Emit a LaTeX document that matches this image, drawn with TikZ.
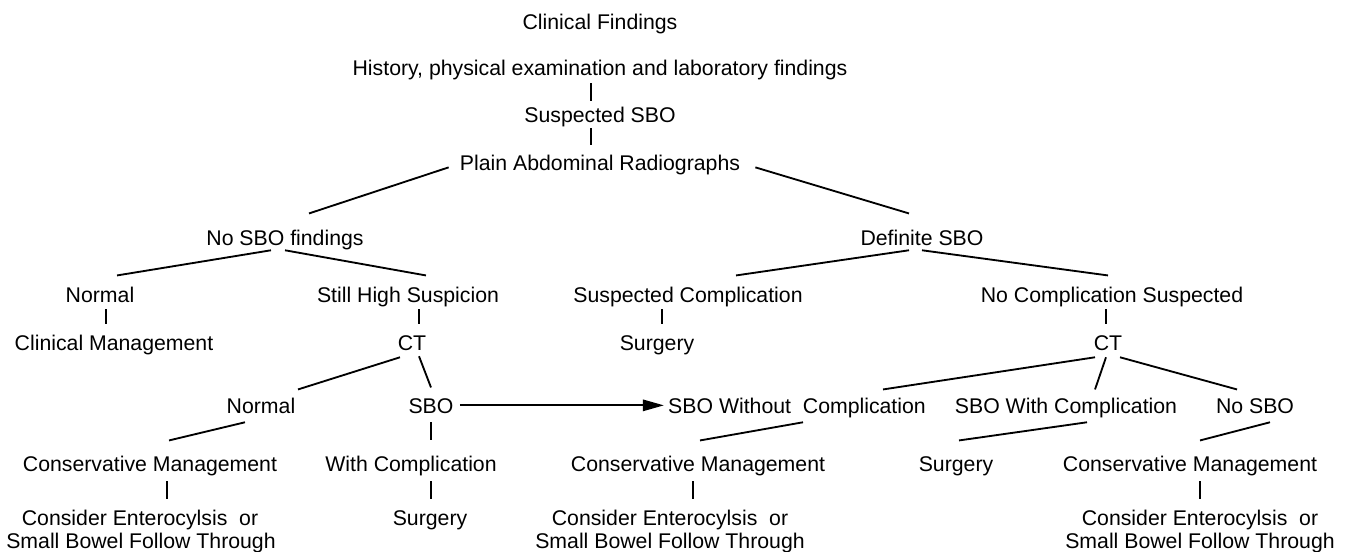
\documentclass[tikz,border=0pt]{standalone}
\usepackage{fontspec}
\setmainfont{Liberation Sans}
\usetikzlibrary{arrows.meta}

\begin{document}
\begin{tikzpicture}[x=0.02cm,y=-0.02cm]
			\useasboundingbox (0,0) rectangle (1352,551);
			\begin{scope}[every node/.style={anchor=base,inner xsep=3.4pt,inner ysep=2.8pt,text height=8.7pt,text depth=0pt,font=\fontsize{12.1}{14}\selectfont}]
				\node (clin) at (600,30) {Clinical Findings};
				\node (hist) at (600,75) {History, physical examination and laboratory findings};
				\node (susp) at (600,122) {Suspected SBO};
				\node (plain) at (600,170) {Plain Abdominal Radiographs};
				\node (nosbo) at (285,245) {No SBO findings};
				\node (defin) at (922,245) {Definite SBO};
				\node (normA) at (100,302) {Normal};
				\node (still) at (408,302) {Still High Suspicion};
				\node (suscomp) at (688,302) {Suspected Complication};
				\node (nocomp) at (1112,302) {No Complication Suspected};
				\node (clinman) at (114,350) {Clinical Management};
				\node (ctA) at (412,350) {CT};
				\node (surgA) at (657,350) {Surgery};
				\node (ctB) at (1108,350) {CT};
				\node (normB) at (261,413) {Normal};
				\node (sbo) at (431,413) {SBO};
				\node (sbowo) at (797,413) {SBO Without\ \ Complication};
				\node (sbow) at (1066,413) {SBO With Complication};
				\node (nosboB) at (1255,413) {No SBO};
				\node (consA) at (150,471) {Conservative Management};
				\node (withc) at (411,471) {With Complication};
				\node (consB) at (698,471) {Conservative Management};
				\node (surgB) at (956,471) {Surgery};
				\node (consC) at (1190,471) {Conservative Management};
				\node (entA) at (140,525) {Consider Enterocylsis\ \ or};
				\node (bowA) at (141,548) {Small Bowel Follow Through};
				\node (surgC) at (430,525) {Surgery};
				\node (entB) at (670,525) {Consider Enterocylsis\ \ or};
				\node (bowB) at (670,548) {Small Bowel Follow Through};
				\node (entC) at (1200,525) {Consider Enterocylsis\ \ or};
				\node (bowC) at (1200,548) {Small Bowel Follow Through};
			\end{scope}
			
			\begin{scope}[every edge/.style={draw=black,line width=1.05pt}]
				% top chain
				\path ([shift={(-9,3)}]hist.south) edge ([shift={(-9,0)}]susp.north);
				\path ([shift={(-9,1)}]susp.south) edge ([shift={(-9,-4)}]plain.north);
				\path ([shift={(-5,5)}]plain.west) edge ([shift={(24,-11)}]nosbo.north);
				\path ([shift={(9,5)}]plain.east) edge ([shift={(-13,-11)}]defin.north);
				% no SBO findings
				\path ([shift={(-14,0)}]nosbo.south) edge ([shift={(17,-6)}]normA.north);
				\path (nosbo.south) edge ([shift={(18,-6)}]still.north);
				\path ([shift={(6,2)}]normA.south) edge ([shift={(-8,-5)}]clinman.north);
				\path ([shift={(11,2)}]still.south) edge ([shift={(7,-5)}]ctA.north);
				\path ([shift={(-12,2)}]ctA.south) edge ([shift={(37,-3)}]normB.north);
				\path ([shift={(7,1)}]ctA.south) edge ([shift={(0,-5)}]sbo.north);
				\path ([shift={(-16,4)}]normB.south) edge ([shift={(19,-10)}]consA.north);
				\path ([shift={(0,4)}]sbo.south) edge ([shift={(20,-10)}]withc.north);
				\path ([shift={(17,5)}]consA.south) edge ([shift={(27,-5)}]entA.north);
				\path ([shift={(20,5)}]withc.south) edge ([shift={(1,-5)}]surgC.north);
				\path [-{Triangle[length=12pt,width=6.5pt]}] (sbo.east) edge ([shift={(2,0)}]sbowo.west);
				% definite SBO
				\path ([shift={(-13,0)}]defin.south) edge ([shift={(48,-6)}]suscomp.north);
				\path (defin.south) edge ([shift={(-4,-6)}]nocomp.north);
				\path ([shift={(-26,2)}]suscomp.south) edge ([shift={(5,-5)}]surgA.north);
				\path ([shift={(-6,2)}]nocomp.south) edge ([shift={(-2,-5)}]ctB.north);
				\path ([shift={(-13,2)}]ctB.south) edge ([shift={(86,-3)}]sbowo.north);
				\path ([shift={(-2,2)}]ctB.south) edge ([shift={(29,-3)}]sbow.north);
				\path ([shift={(12,2)}]ctB.south) edge ([shift={(-18,-3)}]nosboB.north);
				\path ([shift={(6,4)}]sbowo.south) edge ([shift={(2,-10)}]consB.north);
				\path ([shift={(21,4)}]sbow.south) edge ([shift={(3,-10)}]surgB.north);
				\path ([shift={(15,4)}]nosboB.south) edge ([shift={(10,-10)}]consC.north);
				\path ([shift={(-5,5)}]consB.south) edge ([shift={(23,-5)}]entB.north);
				\path ([shift={(10,5)}]consC.south) edge ([shift={(0,-5)}]entC.north);
			\end{scope}
		\end{tikzpicture}
\end{document}
